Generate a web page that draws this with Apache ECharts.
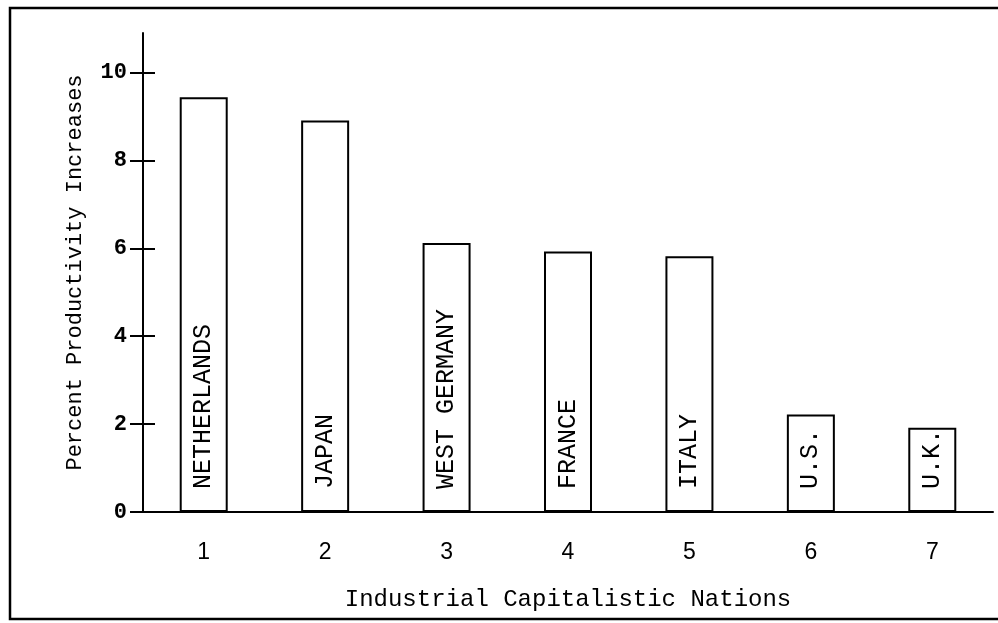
<!DOCTYPE html>
<html>
<head>
<meta charset="utf-8">
<script src="https://cdn.jsdelivr.net/npm/echarts@6/dist/echarts.min.js"></script>
<style>
  html, body { margin: 0; padding: 0; background: #fff; }
  #chart { width: 998px; height: 623px; }
</style>
</head>
<body>
<div id="chart"></div>
<script>
// data
const nations = ['1', '2', '3', '4', '5', '6', '7']
const names = ['NETHERLANDS', 'JAPAN', 'WEST GERMANY', 'FRANCE', 'ITALY', 'U.S.', 'U.K.']
const increases = [9.44, 8.91, 6.12, 5.93, 5.82, 2.22, 1.92]
const yTicks = [0, 2, 4, 6, 8, 10]

const mono = 'Liberation Mono'
const chart = echarts.init(document.getElementById('chart'))

const option = {
  animation: false,
  backgroundColor: '#fff',
  grid: { left: 143, right: 5, top: 33, bottom: 111 },
  graphic: [{
    // page frame, open on the right like the scan
    type: 'polyline',
    shape: { points: [[1005, 8], [10, 8], [10, 619], [1005, 619]] },
    style: { fill: 'none', stroke: '#000', lineWidth: 2.5 },
    silent: true
  }],
  xAxis: {
    type: 'category',
    data: nations,
    boundaryGap: true,
    axisLine: { lineStyle: { color: '#000', width: 2 } },
    axisTick: { show: false },
    axisLabel: { color: '#000', fontFamily: 'Liberation Sans', fontSize: 23, margin: 29 },
    name: 'Industrial Capitalistic Nations',
    nameLocation: 'middle',
    nameGap: 76,
    nameTextStyle: { color: '#000', fontFamily: mono, fontSize: 24 }
  },
  yAxis: [{
    type: 'value',
    min: 0,
    max: 10.9,
    interval: 2,
    splitLine: { show: false },
    axisLine: { show: true, lineStyle: { color: '#000', width: 2 } },
    axisTick: { show: true, length: 13, customValues: yTicks, lineStyle: { color: '#000', width: 2 } },
    axisLabel: { color: '#000', fontFamily: mono, fontWeight: 'bold', fontSize: 22, margin: 16, customValues: yTicks },
    name: 'Percent Productivity Increases',
    nameLocation: 'middle',
    nameGap: 57,
    nameTextStyle: { color: '#000', fontFamily: mono, fontSize: 22 }
  }, {
    // second copy so the ticks cross the axis line
    type: 'value',
    min: 0,
    max: 10.9,
    interval: 2,
    position: 'left',
    splitLine: { show: false },
    axisLine: { show: false },
    axisTick: { show: true, inside: true, length: 12, customValues: yTicks, lineStyle: { color: '#000', width: 2 } },
    axisLabel: { show: false }
  }],
  series: [{
    type: 'bar',
    data: increases,
    barWidth: 48,
    itemStyle: { color: '#fff', borderColor: '#000', borderWidth: 2 },
    label: {
      show: true,
      position: 'insideBottom',
      distance: 23,
      rotate: 90,
      align: 'left',
      verticalAlign: 'middle',
      color: '#000',
      fontFamily: mono,
      fontSize: 25,
      formatter: p => names[p.dataIndex]
    }
  }]
}

chart.setOption(option)
</script>
</body>
</html>
